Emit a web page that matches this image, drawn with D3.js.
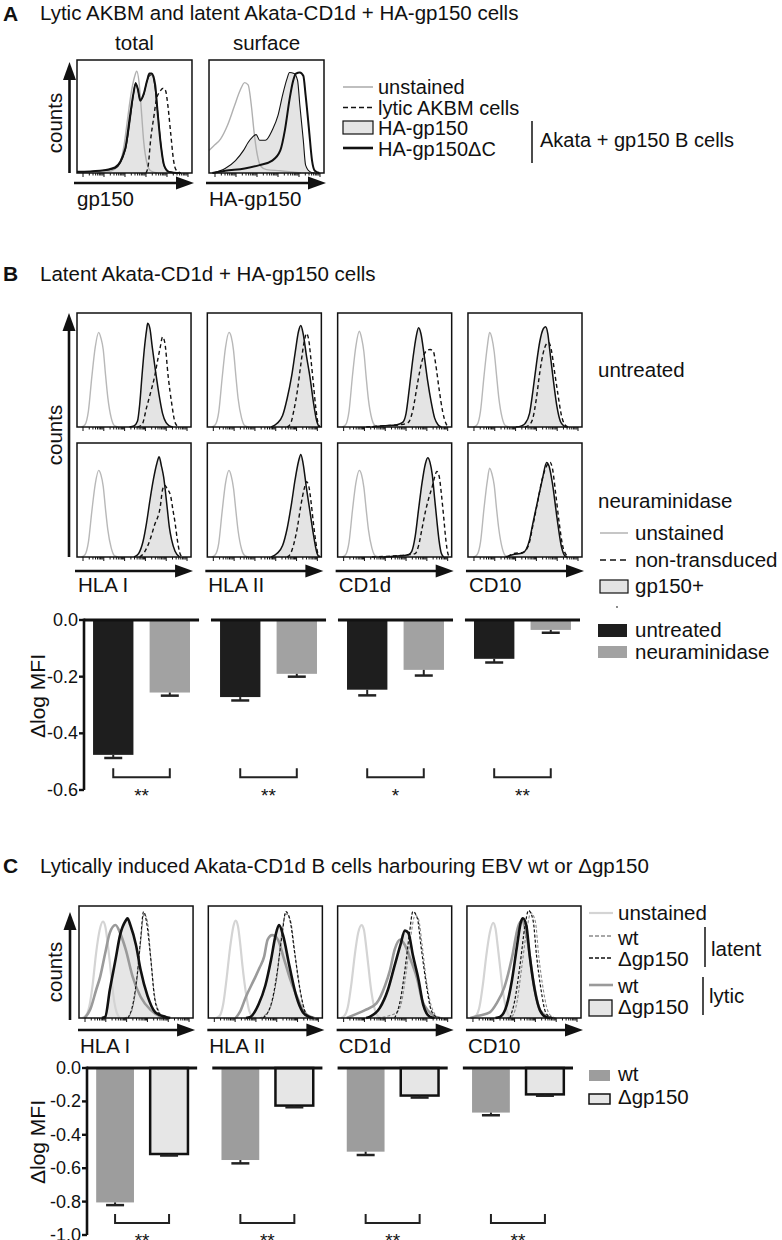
<!DOCTYPE html>
<html>
<head>
<meta charset="utf-8">
<script src="https://cdn.jsdelivr.net/npm/d3@7"></script>
<style>
  body { margin: 0; background: #fff; }
  svg { display: block; font-family: "Liberation Sans", Arial, Helvetica, sans-serif; }
</style>
</head>
<body>
<svg id="fig" width="782" height="1240"></svg>
<script>
// ---- data (histogram points are [x %, counts %] of each plot box) ----
const markers = ["HLA I", "HLA II", "CD1d", "CD10"];

const aColumns = ["total", "surface"];
const aAxisLabels = ["gp150", "HA-gp150"];
const aUnstained = [
  [[18,0],[30,2],[37,8],[41,25],[44,48],[47,70],[50,85],[52,90],[54,80],[56,55],[58,28],[61,8],[64,2],[70,0]],
  [[0,20],[4,24],[10,30],[16,42],[22,59],[27,73],[31,80],[34,78],[37,58],[39,38],[42,16],[45,6],[50,3],[62,2],[80,0]]
];
const aGp150 = [
  [[0,1],[20,2],[33,4],[42,20],[46.5,49],[49,69],[51,80],[52.6,75],[55,65],[58,69],[60.5,80],[63,86],[65,87],[67.5,78],[70,56],[73,25],[75.5,7],[80,1],[88,0]],
  [[3,0],[14,4],[23,11],[30,20],[34,27],[38,32],[41,34],[44,29],[49,29],[55,38],[60,51],[64,69],[68,84],[70,89],[74,88],[77,82],[79,60],[82,29],[84,7],[88,1],[92,0]]
];
const aGp150dC = [
  [[0,1],[20,2],[33,5],[42,22],[46,50],[49,70],[51,79],[53,74],[55,64],[58,70],[61,82],[63,88],[65,88],[68,78],[70,55],[73,24],[76,6],[80,1],[90,0]],
  [[3,0],[14,2],[31,4],[44,7],[55,11],[62,20],[66,38],[70,65],[73,81],[75.6,88],[79,89],[82,86],[84,69],[87,38],[89.6,11],[92,2],[96,0]]
];
const aLytic = [
  [[60,0],[62,7],[64,29],[67,51],[69,65],[72,72],[75,75],[77,73],[79,60],[81.6,34],[84,11],[86,3],[90,0]],
  []
];

const bRows = ["untreated", "neuraminidase"];
const bUnstained = [
  [
    [[4,0],[7,2],[10,14],[13,44],[16,70],[19,83],[21,78],[23,68],[25,46],[27,26],[30,8],[33,1],[36,0]],
    [[4,0],[7,2],[10,13],[13,43],[16,70],[19,83],[21,79],[23,67],[25,45],[27,25],[30,8],[33,1],[36,0]],
    [[4,0],[7,2],[10,14],[13,45],[16,71],[19,84],[21,78],[23,66],[25,44],[27,24],[30,7],[33,1],[36,0]],
    [[5,0],[8,2],[11,14],[14,44],[17,71],[19,83],[21,78],[23,66],[25,46],[27,26],[30,8],[33,1],[36,0]]
  ],
  [
    [[4,0],[7,2],[10,13],[13,40],[16,64],[19,76],[21,72],[23,62],[25,42],[27,24],[30,8],[33,1],[36,0]],
    [[4,0],[7,2],[10,12],[13,40],[16,65],[19,76],[21,71],[23,60],[25,41],[27,23],[30,7],[33,1],[36,0]],
    [[4,0],[7,2],[10,13],[13,41],[16,65],[19,76],[21,72],[23,61],[25,42],[27,24],[30,8],[33,1],[36,0]],
    [[5,0],[8,2],[11,13],[14,42],[17,67],[19,78],[21,73],[23,63],[25,43],[27,25],[30,8],[33,1],[36,0]]
  ]
];
const bGp150 = [
  [
    [[46,0],[50,1],[53,5],[55,20],[57,45],[59,68],[61,85],[62,91],[64,86],[66,70],[69,48],[72,28],[75,12],[78,4],[81,1],[84,0]],
    [[56,0],[61,3],[66,10],[70,25],[74,45],[77,65],[80,84],[82,89],[84,82],[87,62],[90,44],[93,22],[96,5],[98,0]],
    [[30,0],[40,1],[52,2],[57,4],[60,12],[63,35],[66,60],[69,80],[71,87],[73,82],[76,62],[79,40],[82,22],[85,8],[88,2],[91,0]],
    [[42,0],[47,1],[50,3],[54,12],[57,32],[60,55],[63,75],[66,86],[68,88],[70,82],[72,65],[75,40],[78,18],[81,5],[84,1],[87,0]]
  ],
  [
    [[50,0],[54,3],[58,14],[61,30],[64,50],[67,68],[70,82],[72,88],[74,80],[76,70],[79,44],[81,26],[83,15],[86,5],[90,0]],
    [[56,0],[61,3],[66,10],[70,25],[74,48],[77,68],[80,84],[82,90],[84,82],[87,60],[90,40],[93,20],[96,4],[98,0]],
    [[40,0],[55,1],[62,2],[65,5],[68,18],[71,42],[74,65],[77,82],[79,87],[81,83],[83,72],[85,52],[87,32],[89,14],[91,3],[93,0]],
    [[33,0],[39,2],[48,3.5],[54,15],[57,30],[60,44],[65,67],[69,83],[71,80],[74,65],[78,35],[82,9],[85,1],[87,0]]
  ]
];
const bNonTransduced = [
  [
    [[53,0],[57,2],[61,17],[65,32],[68,44],[71,60],[73,70],[75,79],[77,74],[80,44],[83,21],[86,4],[89,0]],
    [[70,0],[73,3],[76,15],[79,32],[82,55],[85,75],[87,82],[89,76],[91,58],[93,38],[95,18],[97,4],[99,0]],
    [[25,0],[40,1],[55,2],[62,4],[66,15],[70,38],[74,58],[78,67],[81,68],[84,66],[86,55],[89,33],[92,14],[95,3],[97,0]],
    [[50,0],[54,2],[57,8],[60,25],[63,48],[66,65],[69,73],[71,74],[73,68],[76,48],[79,28],[82,10],[85,2],[88,0]]
  ],
  [
    [[55,0],[59,4],[64,15],[68,28],[73,44],[75,59],[77,63],[79,60],[82,54],[84,42],[86,30],[88,15],[90,4],[92,0]],
    [[70,0],[73,3],[76,12],[79,26],[82,45],[85,60],[87,66],[89,62],[91,48],[93,30],[95,14],[97,3],[99,0]],
    [[30,0],[50,1],[62,2],[68,3],[71,10],[74,25],[77,40],[80,52],[83,62],[85,70],[87,75],[89,71],[91,55],[93,35],[95,14],[97,2],[99,0]],
    [[35,0],[40,3],[48,4],[53,10],[57,28],[61,48],[65,68],[69,80],[72,83],[74,78],[77,55],[80,30],[83,10],[86,2],[88,0]]
  ]
];

const cUnstained = [
  [[3,0],[6,2],[9,10],[12,30],[15,58],[18,78],[21,86],[23,82],[25,68],[27,50],[29,30],[31,14],[33,5],[36,0]],
  [[7,0],[10,2],[13,12],[16,35],[19,62],[22,82],[24,87],[26,82],[28,66],[30,46],[33,22],[36,6],[39,1],[42,0]],
  [[3,0],[6,2],[9,10],[12,30],[15,56],[18,76],[21,83],[23,79],[25,64],[27,46],[29,28],[32,10],[35,2],[38,0]],
  [[5,0],[8,2],[11,10],[14,30],[17,56],[20,76],[23,85],[25,80],[27,64],[29,46],[31,28],[34,10],[37,2],[40,0]]
];
const cWtLytic = [
  [[5,0],[10,8],[15,25],[18.6,37],[23,58],[27,76],[32,83],[36,76],[41,61],[47,37],[54,19],[63,7],[72,1],[76,0]],
  [[24,0],[28,6],[33,19],[40,34],[45,45],[49,55],[52,70],[56,74],[61,70],[66,54],[72,34],[79,16],[84,5],[90,1],[93,0]],
  [[8,0],[15,3],[24,7],[34,13],[41.6,29],[46,43],[50,61],[55,70],[59,65],[64,52],[70,34],[74,16],[79,7],[86,1],[90,0]],
  [[3,0],[10,2],[20,5],[26,13],[33,28],[39.5,54],[44.7,81],[48,87],[52.6,72],[58,34],[64,7],[71,1],[75,0]]
];
const cDeltaLytic = [
  [[20,0],[23,1],[27,25],[32,52],[36,74],[41,87],[42.5,89],[45,83],[50,65],[54,43],[60,20],[67,5],[76,1],[80,0]],
  [[33,0],[37,1],[44,12],[50,29],[55,52],[59,74],[62,83],[65.5,74],[71,47],[77,20],[83,5],[88.5,1],[92,0]],
  [[25,0],[28,1],[37,9],[44,25],[50,47],[55,65],[59,78],[62,76],[66,56],[71,34],[75,12],[81,1],[85,0]],
  [[25,0],[29,1],[35,12],[39.5,34],[44,65],[47.4,86],[49,89],[52,83],[55,56],[59.6,24],[64,7],[69,1],[73,0]]
];
const cWtLatent = [
  [[40,0],[44,2],[48,14],[51,36],[54,68],[57,93],[60,86],[63,53],[66,22],[70,6],[74,1],[78,0]],
  [[45,0],[49,2],[55,11],[60,36],[64,72],[68,93],[72,87],[76,57],[80,27],[85,6],[88,1],[92,0]],
  [[35,0],[45,2],[52,5],[56,14],[60,40],[64,72],[68,92],[71,88],[74,66],[78,32],[83,8],[88,1],[92,0]],
  [[35,0],[40,2],[44,15],[48,45],[53,82],[56,94],[60,86],[63,55],[67,25],[71,6],[75,1],[78,0]]
];
const cDeltaLatent = [
  [[43,0],[48,16],[51,38],[54,70],[56.6,95],[59,87],[63,52],[66,20],[70,5],[73.5,1],[77,0]],
  [[48,0],[55,12],[60,38],[64.6,74],[68,95],[71.7,87],[76,56],[80.5,25],[85,5],[88.5,1],[92,0]],
  [[50,0],[55,16],[59,43],[62.8,74],[66,95],[69.9,89],[73,65],[77.9,29],[82,7],[86.7,1],[90,0]],
  [[37.7,0],[42,16],[46.5,47],[51,83],[54,96],[58,87],[61,56],[65,25],[69,5],[73,1],[76,0]]
];

// bar charts (delta log MFI)
const bBarSeries = ["untreated", "neuraminidase"];
const bBarTicks = [0, -0.2, -0.4, -0.6];
const bUntreated = [-0.476, -0.272, -0.246, -0.137];
const bUntreatedErr = [0.011, 0.012, 0.02, 0.013];
const bNeura = [-0.256, -0.19, -0.176, -0.035];
const bNeuraErr = [0.011, 0.01, 0.02, 0.01];
const bSig = ["**", "**", "*", "**"];

const cBarSeries = ["wt", "\u0394gp150"];
const cBarTicks = [0, -0.2, -0.4, -0.6, -0.8, -1.0];
const cWt = [-0.805, -0.551, -0.501, -0.267];
const cWtErr = [0.016, 0.02, 0.02, 0.016];
const cDelta = [-0.515, -0.225, -0.165, -0.158];
const cDeltaErr = [0.009, 0.01, 0.012, 0.008];
const cSig = ["**", "**", "**", "**"];

// ---- drawing ----
const svg = d3.select("#fig");
const FS = 20.5;
const INK = "#111";

function label(x, y, str, opt = {}) {
  return svg.append("text").attr("x", x).attr("y", y)
    .attr("font-size", opt.size || FS)
    .attr("font-weight", opt.bold ? "bold" : null)
    .attr("text-anchor", opt.anchor || "start")
    .attr("fill", INK).text(str);
}
function rotLabel(x, y, str, size) {
  svg.append("text").attr("transform", `translate(${x},${y}) rotate(-90)`)
    .attr("text-anchor", "middle").attr("font-size", size || FS).attr("fill", INK).text(str);
}
function hline(x1, x2, y, color, w, dash) {
  svg.append("line").attr("x1", x1).attr("x2", x2).attr("y1", y).attr("y2", y)
    .attr("stroke", color).attr("stroke-width", w).attr("stroke-dasharray", dash || null);
}
function vline(x, y1, y2, color, w) {
  svg.append("line").attr("x1", x).attr("x2", x).attr("y1", y1).attr("y2", y2)
    .attr("stroke", color).attr("stroke-width", w);
}
function arrowRight(x0, x1, y) {
  hline(x0, x1 - 16, y, INK, 2.6);
  svg.append("path").attr("d", `M${x1},${y} L${x1 - 18},${y - 6.5} L${x1 - 18},${y + 6.5} Z`).attr("fill", INK);
}
function arrowUp(x, y0, y1) {
  vline(x, y0, y1 + 16, INK, 2.6);
  svg.append("path").attr("d", `M${x},${y1} L${x - 6.5},${y1 + 18} L${x + 6.5},${y1 + 18} Z`).attr("fill", INK);
}

const tickScale = d3.scaleLog().domain([1, 1e5]);

function drawHist(x0, y0, w, h, layers) {
  const g = svg.append("g");
  const x = d3.scaleLinear().domain([0, 100]).range([x0, x0 + w]);
  const y = d3.scaleLinear().domain([0, 100]).range([y0 + h, y0]);
  const line = d3.line().x(d => x(d[0])).y(d => y(d[1])).curve(d3.curveMonotoneX);
  const area = d3.area().x(d => x(d[0])).y0(y(0)).y1(d => y(d[1])).curve(d3.curveMonotoneX);
  layers.forEach(l => {
    if (!l.pts || !l.pts.length) return;
    if (l.fill) g.append("path").attr("d", area(l.pts)).attr("fill", l.fill);
    if (l.stroke) g.append("path").attr("d", line(l.pts)).attr("fill", "none")
      .attr("stroke", l.stroke).attr("stroke-width", l.width)
      .attr("stroke-dasharray", l.dash || null).attr("stroke-linejoin", "round");
  });
  tickScale.range([x0 + 6, x0 + w - 4]);
  g.selectAll("line.tk").data(tickScale.ticks()).join("line")
    .attr("x1", d => tickScale(d)).attr("x2", d => tickScale(d))
    .attr("y1", y0 + h).attr("y2", d => y0 + h + (String(d)[0] === "1" ? 4 : 2.5))
    .attr("stroke", INK).attr("stroke-width", 1);
  g.append("rect").attr("x", x0).attr("y", y0).attr("width", w).attr("height", h)
    .attr("fill", "none").attr("stroke", INK).attr("stroke-width", 1.5);
}

function drawBars(cfg) {
  const { y, axisX, group, inner, series, ticks, sig, brBottom, starBase } = cfg;
  const bw = group.bandwidth();
  markers.forEach((m, i) => {
    const gx = group(m);
    series.forEach((s, k) => {
      const bx = gx + inner(inner.domain()[k]), w = inner.bandwidth();
      svg.append("rect").attr("x", bx).attr("y", y(0)).attr("width", w)
        .attr("height", y(s.vals[i]) - y(0)).attr("fill", s.fill)
        .attr("stroke", s.stroke || null).attr("stroke-width", s.stroke ? 2.5 : null);
      const ye = y(s.vals[i] - s.errs[i]);
      vline(bx + w / 2, y(s.vals[i]), ye, "#222", 2);
      hline(bx + w / 2 - 9, bx + w / 2 + 9, ye, "#222", 2.5);
    });
    hline(gx, gx + bw, y(0), INK, 2.8);
    // significance bracket between the two bar centres
    const c1 = gx + inner(inner.domain()[0]) + inner.bandwidth() / 2;
    const c2 = gx + inner(inner.domain()[1]) + inner.bandwidth() / 2;
    svg.append("path").attr("d", `M${c1},${brBottom - 9} V${brBottom} H${c2} V${brBottom - 9}`)
      .attr("fill", "none").attr("stroke", "#222").attr("stroke-width", 2);
    label((c1 + c2) / 2, starBase, sig[i], { anchor: "middle", size: 19 });
  });
  vline(axisX, y(0) - 1.4, y(ticks[ticks.length - 1]), INK, 2.6);
  ticks.forEach(t => {
    hline(axisX - 5, axisX, y(t), INK, 2.4);
    label(axisX - 6, y(t) + 6, t.toFixed(1), { anchor: "end", size: 18 });
  });
}

// ---- panel A ----
label(3, 21, "A", { bold: true, size: 21 });
label(40, 20, "Lytic AKBM and latent Akata-CD1d + HA-gp150 cells");
const aBand = d3.scaleBand().domain(aColumns).range([77, 324]).paddingInner(0.129);
aColumns.forEach((col, i) => {
  const x0 = aBand(col), w = aBand.bandwidth();
  drawHist(x0, 60, w, 113, [
    { pts: aGp150[i], fill: "#e4e4e4" },
    { pts: aUnstained[i], stroke: "#b0b0b0", width: 1.4 },
    { pts: aGp150[i], stroke: INK, width: 1.1 },
    { pts: aGp150dC[i], stroke: INK, width: 2 },
    { pts: aLytic[i], stroke: INK, width: 1.4, dash: "4,3" }
  ]);
  label(x0 + w / 2, 50, col, { anchor: "middle" });
  arrowRight(x0 - 3, x0 + w + 2, 183);
  label(x0, 206, aAxisLabels[i]);
});
arrowUp(69.5, 173, 62);
rotLabel(62, 123, "counts");

hline(343, 373, 87, "#b0b0b0", 1.6);
label(378, 94, "unstained", { size: 20 });
hline(343, 373, 107.5, INK, 1.6, "5,3");
label(378, 114.5, "lytic AKBM cells", { size: 20 });
svg.append("rect").attr("x", 343).attr("y", 121).attr("width", 30).attr("height", 13)
  .attr("fill", "#e4e4e4").attr("stroke", INK).attr("stroke-width", 1.2);
label(378, 135, "HA-gp150", { size: 20 });
hline(343, 373, 148, INK, 2.6);
label(378, 155.5, "HA-gp150\u0394C", { size: 20 });
vline(532, 121, 163, INK, 1.5);
label(540, 147, "Akata + gp150 B cells", { size: 20 });

// ---- panel B ----
label(3, 281, "B", { bold: true, size: 21 });
label(40, 281, "Latent Akata-CD1d + HA-gp150 cells");
const bBand = d3.scaleBand().domain(markers).range([77, 582]).paddingInner(0.125);
const bRowTop = [313, 443];
bRows.forEach((row, r) => {
  markers.forEach((m, i) => {
    drawHist(bBand(m), bRowTop[r], bBand.bandwidth(), 114, [
      { pts: bGp150[r][i], fill: "#e4e4e4" },
      { pts: bUnstained[r][i], stroke: "#b8b8b8", width: 1.4 },
      { pts: bNonTransduced[r][i], stroke: INK, width: 1.4, dash: "4,3" },
      { pts: bGp150[r][i], stroke: INK, width: 1.5 }
    ]);
  });
});
label(598, 377, bRows[0]);
label(598, 508, bRows[1]);
markers.forEach(m => {
  arrowRight(bBand(m) - 2, bBand(m) + bBand.bandwidth() + 2, 571);
  label(bBand(m) + 1, 592, m);
});
arrowUp(69, 557, 313);
rotLabel(62, 435, "counts");

hline(600, 628, 533, "#b8b8b8", 1.6);
label(635, 540, "unstained");
hline(600, 628, 560, INK, 1.6, "6,4");
label(635, 567, "non-transduced");
svg.append("rect").attr("x", 600).attr("y", 580).attr("width", 28).attr("height", 13)
  .attr("fill", "#e4e4e4").attr("stroke", INK).attr("stroke-width", 1.2);
label(635, 593, "gp150+");
svg.append("circle").attr("cx", 617).attr("cy", 607).attr("r", 0.9).attr("fill", "#555");
svg.append("rect").attr("x", 598).attr("y", 624).attr("width", 29).attr("height", 13).attr("fill", "#1e1e1e");
label(635, 637, bBarSeries[0]);
svg.append("rect").attr("x", 598).attr("y", 646).attr("width", 29).attr("height", 12).attr("fill", "#a2a2a2");
label(635, 659, bBarSeries[1]);

const yB = d3.scaleLinear().domain([0, -0.6]).range([620, 790]);
const bGroup = d3.scaleBand().domain(markers).range([84, 580]).paddingInner(0.094);
const bInner = d3.scaleBand().domain(bBarSeries).range([0, bGroup.bandwidth()]).paddingInner(0.286).paddingOuter(0.16);
drawBars({
  y: yB, axisX: 84, group: bGroup, inner: bInner, ticks: bBarTicks, sig: bSig,
  series: [
    { vals: bUntreated, errs: bUntreatedErr, fill: "#1e1e1e" },
    { vals: bNeura, errs: bNeuraErr, fill: "#a2a2a2" }
  ],
  brBottom: yB(-0.555), starBase: 802
});
rotLabel(45, 696, "\u0394log MFI", 21);

// ---- panel C ----
label(3, 873, "C", { bold: true, size: 21 });
label(40, 873, "Lytically induced Akata-CD1d B cells harbouring EBV wt or \u0394gp150");
const cBand = d3.scaleBand().domain(markers).range([79, 581]).paddingInner(0.118);
markers.forEach((m, i) => {
  const x0 = cBand(m), w = cBand.bandwidth();
  drawHist(x0, 906, w, 112, [
    { pts: cDeltaLytic[i], fill: "#e6e6e6" },
    { pts: cUnstained[i], stroke: "#d4d4d4", width: 2.2 },
    { pts: cWtLytic[i], stroke: "#9a9a9a", width: 2.6 },
    { pts: cWtLatent[i], stroke: "#8a8a8a", width: 1.1, dash: "3,2" },
    { pts: cDeltaLatent[i], stroke: INK, width: 1.2, dash: "3,2" },
    { pts: cDeltaLytic[i], stroke: INK, width: 2.6 }
  ]);
  arrowRight(x0 - 1, x0 + w + 2, 1030);
  label(x0 + 1, 1053, m);
});
arrowUp(70, 1020, 912);
rotLabel(62, 972, "counts");

hline(589, 613, 913, "#d4d4d4", 2.2);
label(618, 920, "unstained");
hline(589, 613, 936, "#8a8a8a", 1.3, "4,2");
label(618, 945, "wt");
hline(589, 613, 958, INK, 1.4, "4,2");
label(618, 966, "\u0394gp150");
vline(705, 927, 967, INK, 1.5);
label(711, 956, "latent");
hline(589, 613, 985, "#9a9a9a", 2.6);
label(618, 993, "wt");
svg.append("rect").attr("x", 589).attr("y", 1000).attr("width", 23).attr("height", 16)
  .attr("fill", "#e6e6e6").attr("stroke", INK).attr("stroke-width", 1.3);
label(618, 1014, "\u0394gp150");
vline(703, 977, 1015, INK, 1.5);
label(709, 1003, "lytic");

svg.append("rect").attr("x", 589).attr("y", 1070).attr("width", 21).attr("height", 11).attr("fill", "#9d9d9d");
label(618, 1081, cBarSeries[0]);
svg.append("rect").attr("x", 589).attr("y", 1094).attr("width", 21).attr("height", 10)
  .attr("fill", "#e6e6e6").attr("stroke", INK).attr("stroke-width", 1.5);
label(618, 1104, cBarSeries[1]);

const yC = d3.scaleLinear().domain([0, -1]).range([1068, 1235]);
const cGroup = d3.scaleBand().domain(markers).range([87, 573]).paddingInner(0.121);
const cInner = d3.scaleBand().domain(cBarSeries).range([0, cGroup.bandwidth()]).paddingInner(0.3).paddingOuter(0.17);
drawBars({
  y: yC, axisX: 87, group: cGroup, inner: cInner, ticks: cBarTicks, sig: cSig,
  series: [
    { vals: cWt, errs: cWtErr, fill: "#9d9d9d" },
    { vals: cDelta, errs: cDeltaErr, fill: "#e6e6e6", stroke: INK }
  ],
  brBottom: yC(-0.928), starBase: 1247
});
rotLabel(45, 1142, "\u0394log MFI", 21);
</script>
</body>
</html>
